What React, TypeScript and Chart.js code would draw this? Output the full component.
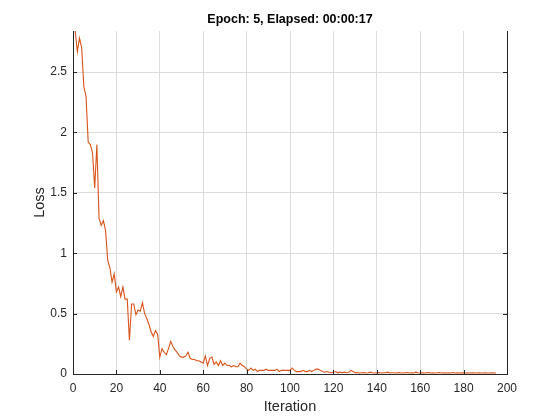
import React, { useEffect, useRef } from "react";
import { Chart, registerables } from "chart.js";

Chart.register(...registerables);

const titleText = "Epoch: 5, Elapsed: 00:00:17";
const xLabel = "Iteration";
const yLabel = "Loss";
const xTicks = [0, 20, 40, 60, 80, 100, 120, 140, 160, 180, 200];
const yTicks = [0, 0.5, 1, 1.5, 2, 2.5];
const xMin = 0;
const xMax = 200;
const yMin = 0;
const yMax = 2.84;

const loss = [
  2.84, 2.67, 2.78, 2.7, 2.38, 2.3, 1.92, 1.9, 1.83, 1.54,
  1.9, 1.29, 1.23, 1.27, 1.19, 0.94, 0.88, 0.76, 0.83, 0.68,
  0.72, 0.64, 0.72, 0.62, 0.62, 0.28, 0.58, 0.58, 0.49, 0.53,
  0.52, 0.59, 0.5, 0.46, 0.41, 0.35, 0.31, 0.36, 0.33, 0.14,
  0.21, 0.18, 0.16, 0.21, 0.27, 0.23, 0.2, 0.18, 0.15, 0.14,
  0.14, 0.15, 0.18, 0.13, 0.12, 0.12, 0.11, 0.11, 0.1, 0.09,
  0.15, 0.07, 0.13, 0.14, 0.08, 0.1, 0.07, 0.11, 0.07, 0.09,
  0.07, 0.07, 0.06, 0.07, 0.06, 0.06, 0.09, 0.07, 0.06, 0.04,
  0.03, 0.05, 0.03, 0.04, 0.02, 0.03, 0.03, 0.03, 0.04, 0.03,
  0.03, 0.03, 0.03, 0.04, 0.02, 0.03, 0.03, 0.03, 0.03, 0.03,
  0.05, 0.03, 0.02, 0.02, 0.02, 0.03, 0.02, 0.02, 0.03, 0.02,
  0.03, 0.04, 0.04, 0.03, 0.02, 0.015, 0.02, 0.015, 0.01, 0.015,
  0.02, 0.01, 0.015, 0.01, 0.015, 0.01, 0.012, 0.03, 0.02, 0.01,
  0.012, 0.008, 0.01, 0.012, 0.008, 0.01, 0.015, 0.01, 0.008, 0.01,
  0.012, 0.008, 0.01, 0.01, 0.015, 0.008, 0.01, 0.01, 0.008, 0.012,
  0.01, 0.008, 0.01, 0.012, 0.008, 0.01, 0.008, 0.015, 0.01, 0.008,
  0.01, 0.008, 0.01, 0.012, 0.008, 0.01, 0.008, 0.01, 0.012, 0.008,
  0.01, 0.008, 0.01, 0.008, 0.012, 0.008, 0.01, 0.008, 0.01, 0.008,
  0.008, 0.01, 0.008, 0.01, 0.008, 0.008, 0.01, 0.008, 0.008, 0.01,
  0.008, 0.008, 0.01, 0.008, 0.008,
];

const iterations = loss.map((_, i) => i + 1);

const AXIS_COLOR = "#262626";
const GRID_COLOR = "#dcdcdc";
const LINE_COLOR = "#D95319";
const FONT = "'Liberation Sans', Arial, Helvetica, sans-serif";

const matlabAxes = {
  id: "matlabAxes",
  afterDraw(chart: any) {
    const { ctx, chartArea: a, scales } = chart;
    const xs = scales.x;
    const ys = scales.y;
    const al = (v: number) => Math.round(v) + 0.5;
    ctx.save();
    ctx.strokeStyle = AXIS_COLOR;
    ctx.lineWidth = 1;
    ctx.beginPath();
    ctx.moveTo(al(a.right), a.top);
    ctx.lineTo(al(a.right), al(a.bottom));
    xTicks.forEach((v) => {
      const px = al(xs.getPixelForValue(v));
      ctx.moveTo(px, a.bottom);
      ctx.lineTo(px, a.bottom - 4);
    });
    yTicks.forEach((v) => {
      const py = al(ys.getPixelForValue(v));
      ctx.moveTo(a.left, py);
      ctx.lineTo(a.left + 4, py);
      ctx.moveTo(a.right, py);
      ctx.lineTo(a.right - 4, py);
    });
    ctx.stroke();
    ctx.restore();
  },
};

export default function App() {
  const ref = useRef<HTMLCanvasElement | null>(null);

  useEffect(() => {
    if (!ref.current) return;
    const chart = new Chart(ref.current, {
      type: "line",
      data: {
        datasets: [
          {
            data: iterations.map((it, i) => ({ x: it, y: loss[i] })),
            borderColor: LINE_COLOR,
            borderWidth: 1.1,
            pointRadius: 0,
            tension: 0,
            fill: false,
          },
        ],
      },
      options: {
        responsive: false,
        animation: false,
        layout: { padding: { left: 0, right: 53, top: 0, bottom: 0 } },
        plugins: {
          legend: { display: false },
          tooltip: { enabled: false },
          title: {
            display: true,
            text: titleText,
            fullSize: false,
            color: "#000000",
            font: { family: FONT, size: 12.5, weight: "bold", lineHeight: 1 },
            padding: { top: 13, bottom: 5.5 },
          },
        },
        scales: {
          x: {
            type: "linear",
            min: xMin,
            max: xMax,
            afterFit: (s: any) => {
              s.height = 46;
            },
            afterBuildTicks: (s: any) => {
              s.ticks = xTicks.map((v) => ({ value: v }));
            },
            grid: { color: GRID_COLOR, drawTicks: false, lineWidth: 1 },
            border: { display: true, color: AXIS_COLOR, width: 1 },
            ticks: {
              color: AXIS_COLOR,
              padding: 7,
              maxRotation: 0,
              font: { family: FONT, size: 12 },
              callback: (v: any) => String(v),
            },
            title: {
              display: true,
              text: xLabel,
              color: AXIS_COLOR,
              font: { family: FONT, size: 14.5 },
              padding: { top: 0, bottom: 4 },
            },
          },
          y: {
            type: "linear",
            min: yMin,
            max: yMax,
            afterFit: (s: any) => {
              s.width = 73;
            },
            afterBuildTicks: (s: any) => {
              s.ticks = yTicks.map((v) => ({ value: v }));
            },
            grid: { color: GRID_COLOR, drawTicks: false, lineWidth: 1 },
            border: { display: true, color: AXIS_COLOR, width: 1 },
            ticks: {
              color: AXIS_COLOR,
              padding: 6,
              font: { family: FONT, size: 12 },
              callback: (v: any) => String(v),
            },
            title: {
              display: true,
              text: yLabel,
              color: AXIS_COLOR,
              font: { family: FONT, size: 14.5 },
              padding: { top: 31, bottom: 0 },
            },
          },
        },
      },
      plugins: [matlabAxes],
    } as any);
    return () => chart.destroy();
  }, []);

  return (
    <div style={{ position: "fixed", left: 0, top: 0, width: 560, height: 420, background: "#ffffff" }}>
      <canvas ref={ref} width={560} height={420} style={{ display: "block" }} />
    </div>
  );
}
